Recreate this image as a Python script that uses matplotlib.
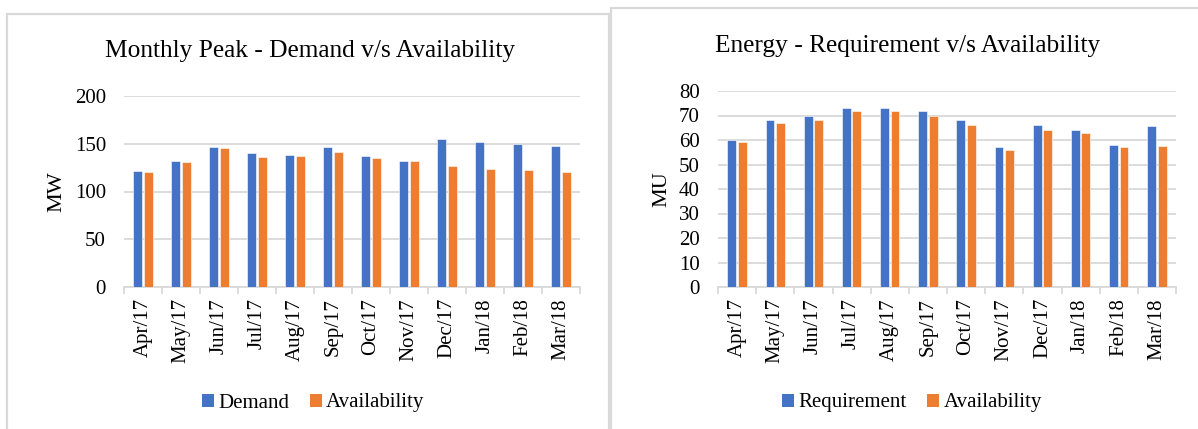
import matplotlib
matplotlib.use("Agg")
import matplotlib.pyplot as plt
import numpy as np
from matplotlib.patches import Rectangle, Patch

plt.rcParams['font.family'] = ['Liberation Serif', 'DejaVu Serif']

months = ["Apr/17", "May/17", "Jun/17", "Jul/17", "Aug/17", "Sep/17",
          "Oct/17", "Nov/17", "Dec/17", "Jan/18", "Feb/18", "Mar/18"]

peak_demand = [121, 132, 147, 140, 138, 147, 137, 132, 155, 152, 150, 148]
peak_availability = [120, 131, 146, 136, 137, 141, 135, 132, 127, 124, 122, 120]

energy_requirement = [60, 68, 70, 73, 73, 72, 68, 57, 66, 64, 58, 65.6]
energy_availability = [59, 67, 68, 72, 72, 70, 66, 56, 64, 63, 57, 57.5]

BLUE = "#4472C4"
ORANGE = "#ED7D31"
GRID = "#D9D9D9"

W, H = 1198, 429
fig = plt.figure(figsize=(W / 100, H / 100), dpi=100)

# panel frames
fig.patches.append(Rectangle((7 / W, -0.1), (609 - 7) / W, 1.1 - 14 / H,
                             transform=fig.transFigure, fill=False,
                             edgecolor=GRID, linewidth=1.6))
fig.patches.append(Rectangle((611 / W, -0.1), 1.0, 1.1 - 8 / H,
                             transform=fig.transFigure, fill=False,
                             edgecolor=GRID, linewidth=1.6))


def px_axes(x0, x1, ytop, ybot):
    return fig.add_axes([x0 / W, 1 - ybot / H, (x1 - x0) / W, (ybot - ytop) / H])


def draw_panel(ax, s1, s2, ymax, ystep, ylabel):
    x = np.arange(len(months))
    w = 0.232
    off = 0.136
    ax.bar(x - off, s1, width=w, color=BLUE, edgecolor="white", linewidth=0.4, zorder=3)
    ax.bar(x + off, s2, width=w, color=ORANGE, edgecolor="white", linewidth=0.4, zorder=3)
    ax.set_xlim(-0.5, len(months) - 0.5)
    ax.set_ylim(0, ymax)
    ax.set_yticks(np.arange(0, ymax + 0.1, ystep))
    ax.yaxis.grid(True, color=GRID, linewidth=1.3, zorder=0)
    ax.set_axisbelow(True)
    for s in ["top", "right", "left"]:
        ax.spines[s].set_visible(False)
    ax.spines["bottom"].set_color(GRID)
    ax.spines["bottom"].set_linewidth(1.3)
    ax.set_xticks(x)
    ax.set_xticklabels(months, rotation=90, fontsize=15)
    ax.set_xticks(np.arange(-0.5, len(months), 1.0), minor=True)
    ax.tick_params(axis="x", which="major", length=0, pad=8)
    ax.tick_params(axis="x", which="minor", length=5, color=GRID, width=1.3)
    ax.tick_params(axis="y", length=0, pad=13, labelsize=15)
    ax.set_ylabel(ylabel, fontsize=16)


ax1 = px_axes(124, 580, 96, 287)
draw_panel(ax1, peak_demand, peak_availability, 200, 50, "MW")
ax1.yaxis.set_label_coords((66 - 124) / 456, 0.5)

ax2 = px_axes(718, 1176, 91, 287)
draw_panel(ax2, energy_requirement, energy_availability, 80, 10, "MU")
ax2.yaxis.set_label_coords((671 - 718) / 458, 0.5)

fig.text(310 / W, 1 - 51 / H, "Monthly Peak - Demand v/s Availability",
         ha="center", va="center", fontsize=18.3)
fig.text(908 / W, 1 - 46 / H, "Energy - Requirement v/s Availability",
         ha="center", va="center", fontsize=18.3)


def legend(labels, cx):
    handles = [Patch(facecolor=BLUE), Patch(facecolor=ORANGE)]
    fig.legend(handles, labels, loc="center", bbox_to_anchor=(cx / W, 1 - 403 / H),
               ncol=2, frameon=False, fontsize=15, handlelength=0.58,
               handleheight=0.58, handletextpad=0.2, columnspacing=1.0,
               borderaxespad=0)


legend(["Demand", "Availability"], 313)
legend(["Requirement", "Availability"], 912)

fig.savefig("out.png", dpi=100)
